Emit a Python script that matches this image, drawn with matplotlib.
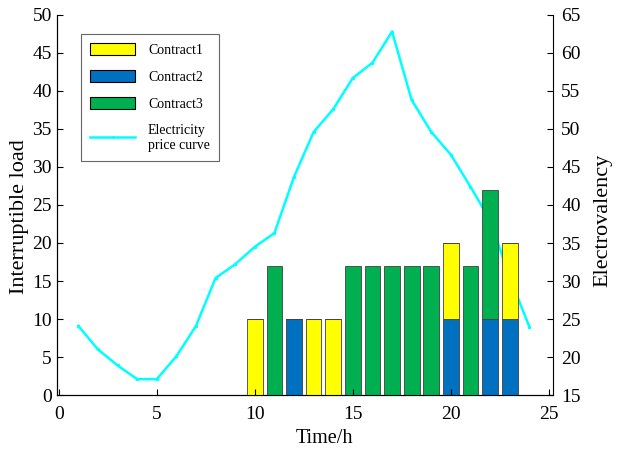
import matplotlib.pyplot as plt
from matplotlib.patches import Patch
from matplotlib.lines import Line2D

plt.rcParams['font.family'] = ['Liberation Serif', 'DejaVu Serif']

# hours 1..24
hours = list(range(1, 25))
contract1 = [0, 0, 0, 0, 0, 0, 0, 0, 0, 10, 0, 0, 10, 10, 0, 0, 0, 0, 0, 10, 0, 0, 10, 0]
contract2 = [0, 0, 0, 0, 0, 0, 0, 0, 0, 0, 0, 10, 0, 0, 0, 0, 0, 0, 0, 10, 0, 10, 10, 0]
contract3 = [0, 0, 0, 0, 0, 0, 0, 0, 0, 0, 17, 0, 0, 0, 17, 17, 17, 17, 17, 0, 17, 17, 0, 0]
price = [24.1, 21, 18.9, 17.1, 17.1, 20.1, 24.1, 30.4, 32.2, 34.5, 36.3, 43.7,
         49.6, 52.6, 56.7, 58.7, 62.8, 53.8, 49.6, 46.6, 42.4, 38, 30.5, 24]

c_yellow = '#FFFF00'
c_blue = '#0070C0'
c_green = '#00B050'
c_price = '#00FFFF'

fig = plt.figure(figsize=(6.17, 4.5), dpi=100)
ax1 = fig.add_axes([0.092, 0.122, 0.804, 0.845])
ax2 = ax1.twinx()
ax1.set_zorder(ax2.get_zorder() + 1)  # bars in front of the price line
ax1.patch.set_visible(False)

w = 0.8
bottom1 = [a + b for a, b in zip(contract2, contract1)]
ax1.bar(hours, contract2, w, color=c_blue, edgecolor='0.25', linewidth=0.6)
ax1.bar(hours, contract1, w, bottom=contract2, color=c_yellow, edgecolor='0.25', linewidth=0.6)
ax1.bar(hours, contract3, w, bottom=bottom1, color=c_green, edgecolor='0.25', linewidth=0.6)

ax2.plot(hours, price, color=c_price, linewidth=1.8, marker='.', markersize=3)

ax1.set_xlim(-0.1, 25.2)
ax1.set_ylim(0, 50)
ax2.set_ylim(15, 65)
ax1.set_xticks(range(0, 26, 5))
ax1.set_yticks(range(0, 51, 5))
ax2.set_yticks(range(15, 66, 5))

for ax in (ax1, ax2):
    ax.spines['top'].set_visible(False)
    ax.tick_params(direction='in', length=4, labelsize=14)
ax1.spines['right'].set_visible(False)
ax1.tick_params(axis='x', pad=8)
ax2.tick_params(axis='y', pad=6)

ax1.set_xlabel('Time/h', fontsize=14.5)
ax1.xaxis.set_label_coords(0.54, -0.088)
ax1.set_ylabel('Interruptible load', fontsize=16)
ax1.yaxis.set_label_coords(-0.056, 0.47)
ax2.set_ylabel('Electrovalency', fontsize=16)
ax2.yaxis.set_label_coords(1.081, 0.46)

handles = [Patch(facecolor=c_yellow, edgecolor='black', linewidth=0.8),
           Patch(facecolor=c_blue, edgecolor='black', linewidth=0.8),
           Patch(facecolor=c_green, edgecolor='black', linewidth=0.8),
           Line2D([], [], color=c_price, linewidth=1.8, marker='.', markersize=2)]
labels = ['Contract1', 'Contract2', 'Contract3', 'Electricity\nprice curve']
leg = ax1.legend(handles, labels, loc='upper left', bbox_to_anchor=(0.048, 0.95),
                 fontsize=10, fancybox=False, edgecolor='0.4', framealpha=1,
                 handlelength=3.3, handleheight=0.95, labelspacing=0.95,
                 handletextpad=0.9, borderpad=0.65, borderaxespad=0)
leg.get_frame().set_linewidth(0.8)
for t in leg.get_texts():
    t.set_multialignment('left')

fig.savefig('out.png', dpi=100)
